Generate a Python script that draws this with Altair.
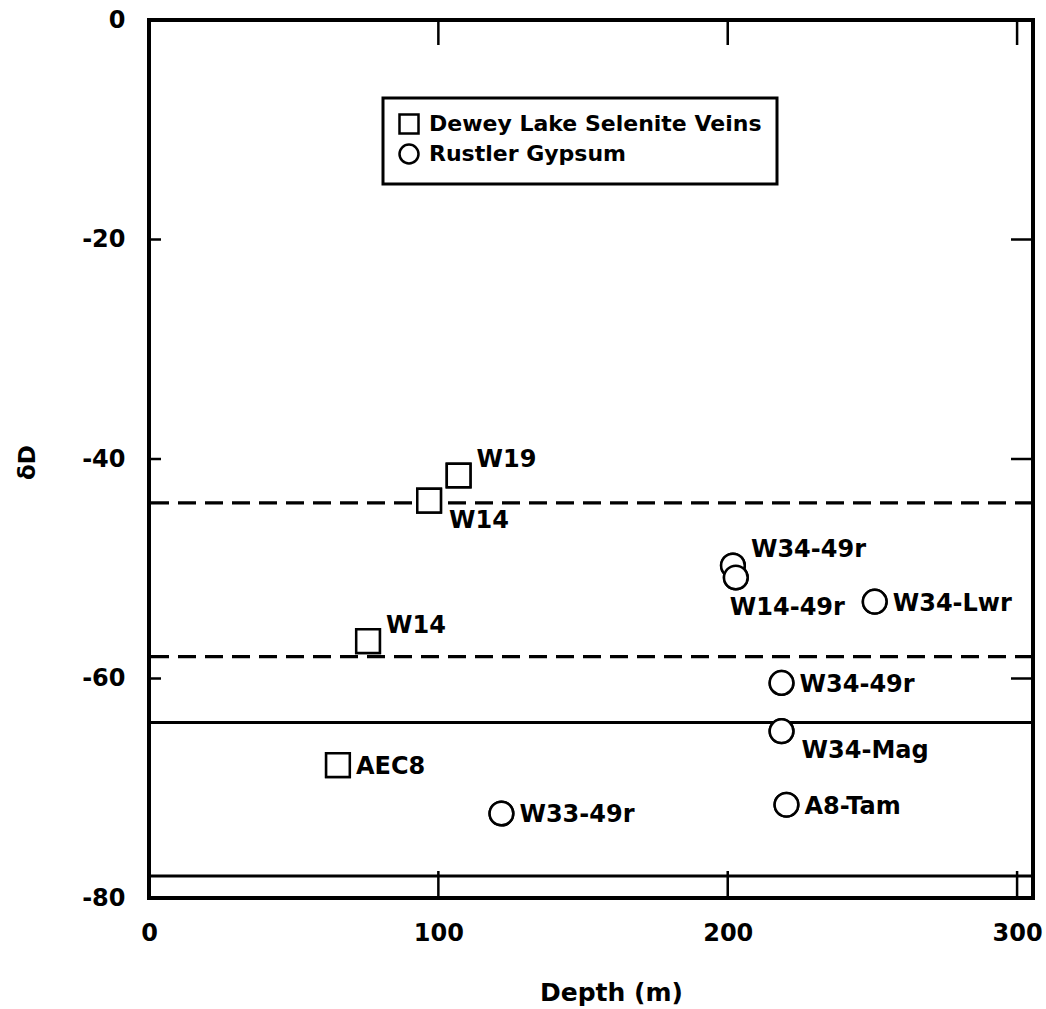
import altair as alt
import pandas as pd

# ---- data ----
names = ["W19", "W14", "W14", "AEC8",
         "W33-49r", "W34-49r", "W14-49r", "W34-Lwr", "W34-49r", "W34-Mag", "A8-Tam"]
depth = [107.0, 96.8, 75.7, 65.3,
         121.8, 201.8, 202.8, 250.8, 218.6, 218.6, 220.3]
delta_d = [-41.5, -43.8, -56.6, -67.9,
           -72.3, -49.7, -50.8, -53.0, -60.4, -64.8, -71.5]
groups = ["Dewey Lake Selenite Veins"] * 4 + ["Rustler Gypsum"] * 7
label_side = ["upper-right", "lower-right", "upper-right", "right",
              "right", "upper-right", "below", "right", "right", "lower-right", "right"]

dashed_levels = [-44, -58]
solid_levels = [-64, -78]
x_ticks = [0, 100, 200, 300]
y_ticks = [0, -20, -40, -60, -80]
inner_x_ticks = [100, 200, 300]
inner_y_ticks = [-20, -40, -60]

W, H = 884, 878
FONT = "DejaVu Sans"

pts = pd.DataFrame({"depth": depth, "dD": delta_d, "name": names,
                    "group": groups, "side": label_side})
dash_df = pd.DataFrame({"level": dashed_levels})
solid_df = pd.DataFrame({"level": solid_levels})
xt_df = pd.DataFrame({"t": inner_x_ticks})
yt_df = pd.DataFrame({"t": inner_y_ticks})

xscale = alt.Scale(domain=[0, 305.5], nice=False, zero=False)
yscale = alt.Scale(domain=[-80, 0], nice=False, zero=False)

xaxis = alt.Axis(values=x_ticks, title="Depth (m)", ticks=False, tickSize=0, domain=False, grid=False,
                 labelFont=FONT, labelFontSize=24, labelFontWeight="bold", labelColor="black",
                 labelBaseline="alphabetic", labelPadding=42, labelFlush=False,
                 labelExpr="'' + datum.value",
                 titleFont=FONT, titleFontSize=25, titleFontWeight="bold", titleColor="black",
                 titleX=462, titleY=102, titleBaseline="alphabetic", titleAlign="center")
yaxis = alt.Axis(values=y_ticks, title="δD", ticks=False, tickSize=0, domain=False, grid=False,
                 labelFont=FONT, labelFontSize=24, labelFontWeight="bold", labelColor="black",
                 labelPadding=24, labelFlush=False, labelBaseline="middle",
                 labelExpr="'' + datum.value",
                 titleFont=FONT, titleFontSize=23, titleFontWeight="bold", titleColor="black",
                 titleX=-122, titleY=442, titleAngle=270, titleBaseline="middle", titleAlign="center")


def X(field):
    return alt.X(field, type="quantitative", scale=xscale, axis=xaxis)


def Y(field):
    return alt.Y(field, type="quantitative", scale=yscale, axis=yaxis)


dashed = alt.Chart(dash_df).mark_rule(color="black", strokeWidth=3.3, strokeDash=[18, 9]).encode(
    y=Y("level"))
solid = alt.Chart(solid_df).mark_rule(color="black", strokeWidth=3).encode(y=Y("level"))

tick_bottom = alt.Chart(xt_df).mark_rule(color="black", strokeWidth=2.5).encode(
    x=X("t"), y=alt.value(H), y2=alt.value(H - 27))
tick_top = alt.Chart(xt_df).mark_rule(color="black", strokeWidth=2.5).encode(
    x=X("t"), y=alt.value(0), y2=alt.value(25))
tick_left = alt.Chart(yt_df).mark_rule(color="black", strokeWidth=2.5).encode(
    y=Y("t"), x=alt.value(0), x2=alt.value(12))
tick_right = alt.Chart(yt_df).mark_rule(color="black", strokeWidth=2.5).encode(
    y=Y("t"), x=alt.value(W), x2=alt.value(W - 22))

group_domain = ["Dewey Lake Selenite Veins", "Rustler Gypsum"]
shape_range = ["square", "circle"]

legend = alt.Legend(
    title=None, orient="none", legendX=234, legendY=78,
    padding=15, strokeColor="black", rowPadding=0,
    labelFont=FONT, labelFontSize=22, labelFontWeight="bold",
    labelColor="black", labelLimit=500, labelOffset=9,
    symbolSize=361, symbolStrokeColor="black", symbolStrokeWidth=2.5,
    symbolOpacity=1,
)

# outline layer that carries the legend (covered by the layer above)
points_legend = alt.Chart(pts).mark_point(filled=False, color="black", strokeWidth=2.5,
                                          size=560, opacity=1).encode(
    x=X("depth"), y=Y("dD"),
    shape=alt.Shape("group:N", scale=alt.Scale(domain=group_domain, range=shape_range), legend=legend),
)
# white-filled, black-outlined markers, drawn in data order so later ones overlap earlier ones
points = alt.Chart(pts).mark_point(filled=False, fill="white", stroke="black", strokeWidth=2.5,
                                   size=560, opacity=1).encode(
    x=X("depth"), y=Y("dD"),
    shape=alt.Shape("group:N", scale=alt.Scale(domain=group_domain, range=shape_range), legend=None),
)

offsets = {"right": (18, 2), "upper-right": (18, -15), "lower-right": (20, 20), "below": (-6, 30)}
label_layers = []
for side, (ddx, ddy) in offsets.items():
    label_layers.append(
        alt.Chart(pts).transform_filter(alt.datum.side == side).mark_text(
            align="left", baseline="middle", dx=ddx, dy=ddy, font=FONT, fontSize=24,
            fontWeight="bold", color="black").encode(x=X("depth"), y=Y("dD"), text="name:N"))

chart = alt.layer(dashed, solid, tick_bottom, tick_top, tick_left, tick_right,
                  points_legend, points, *label_layers).resolve_scale(
    shape="independent").resolve_legend(shape="independent").properties(
    width=W, height=H,
    autosize=alt.AutoSizeParams(type="none"),
    padding={"left": 149, "top": 20, "right": 13, "bottom": 111},
    background="white",
).configure_view(stroke="black", strokeWidth=4).configure_legend(strokeWidth=3)

chart.save("out.html", embed_options={"renderer": "svg", "actions": False})
